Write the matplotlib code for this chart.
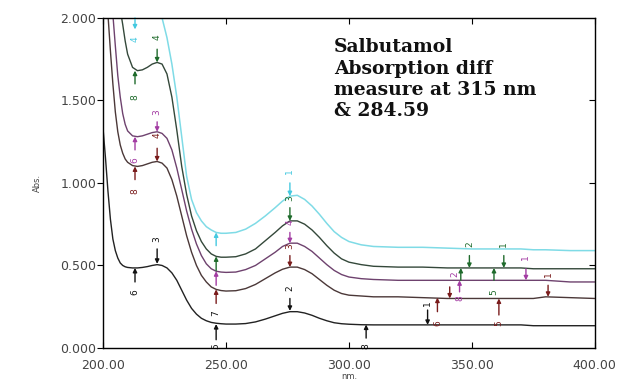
import matplotlib.pyplot as plt

# wavelength grid (nm) shared by all five scans
wavelength = [200, 201, 202, 203, 204, 205, 206, 207, 208, 209, 210,
              212, 214, 216, 218, 220, 222, 224, 226, 228, 230, 232, 234, 236, 238, 240, 242, 244, 246, 248, 250,
              254, 258, 262, 266, 270,
              273, 276, 279, 282, 285, 288, 291, 294, 297, 300,
              305, 310,
              320, 330, 340, 350, 360, 370,
              375, 380, 390, 400]

abs_1 = [1.33, 1.15, 0.95, 0.78, 0.66, 0.59, 0.545, 0.515, 0.50, 0.492, 0.488,
         0.485, 0.485, 0.488, 0.493, 0.50, 0.505, 0.50, 0.485, 0.455, 0.41, 0.35, 0.29, 0.24, 0.205, 0.18, 0.165, 0.155, 0.15, 0.147, 0.145,
         0.145, 0.148, 0.158, 0.175, 0.195,
         0.21, 0.22, 0.22, 0.212, 0.198, 0.18, 0.165, 0.153, 0.147, 0.144,
         0.141, 0.14,
         0.14, 0.14, 0.14, 0.14, 0.14, 0.14,
         0.135, 0.135, 0.135, 0.135]
abs_2 = [2.30, 2.15, 2.02, 1.80, 1.60, 1.43, 1.31, 1.23, 1.18, 1.145, 1.125,
         1.105, 1.10, 1.105, 1.115, 1.125, 1.13, 1.12, 1.09, 1.02, 0.92, 0.80, 0.68, 0.58, 0.50, 0.44, 0.40, 0.37, 0.355, 0.348, 0.345,
         0.347, 0.36, 0.385, 0.42, 0.455,
         0.477, 0.49, 0.49, 0.475, 0.45, 0.415, 0.38, 0.35, 0.33, 0.32,
         0.315, 0.31,
         0.31, 0.305, 0.30, 0.30, 0.30, 0.30,
         0.30, 0.31, 0.305, 0.30]
abs_3 = [2.60, 2.45, 2.30, 2.15, 2.02, 1.83, 1.65, 1.52, 1.42, 1.355, 1.315,
         1.285, 1.28, 1.285, 1.295, 1.305, 1.31, 1.30, 1.27, 1.20, 1.09, 0.96, 0.83, 0.72, 0.63, 0.56, 0.51, 0.48, 0.465, 0.46, 0.458,
         0.46, 0.475, 0.50, 0.54, 0.58,
         0.615, 0.635, 0.635, 0.615, 0.585, 0.545, 0.505, 0.47, 0.445, 0.43,
         0.42, 0.415,
         0.41, 0.41, 0.41, 0.41, 0.41, 0.41,
         0.41, 0.41, 0.40, 0.40]
abs_4 = [2.90, 2.80, 2.65, 2.50, 2.38, 2.25, 2.15, 2.05, 1.96, 1.86, 1.78,
         1.70, 1.68, 1.685, 1.70, 1.72, 1.73, 1.72, 1.66, 1.52, 1.32, 1.10, 0.93, 0.80, 0.71, 0.645, 0.60, 0.57, 0.555, 0.55, 0.55,
         0.553, 0.57, 0.60, 0.65, 0.70,
         0.74, 0.77, 0.77, 0.75, 0.715, 0.67, 0.62, 0.575, 0.54, 0.52,
         0.505, 0.495,
         0.49, 0.49, 0.485, 0.485, 0.485, 0.485,
         0.48, 0.48, 0.48, 0.48]
abs_5 = [3.50, 3.45, 3.40, 3.35, 3.30, 3.25, 3.18, 3.10, 3.03, 2.96, 2.90,
         2.78, 2.66, 2.54, 2.40, 2.27, 2.14, 2.00, 1.88, 1.72, 1.52, 1.28, 1.04, 0.90, 0.82, 0.77, 0.735, 0.715, 0.70, 0.695, 0.695,
         0.70, 0.72, 0.755, 0.80, 0.85,
         0.89, 0.92, 0.925, 0.90, 0.86, 0.81, 0.755, 0.705, 0.67, 0.645,
         0.625, 0.615,
         0.61, 0.61, 0.605, 0.60, 0.60, 0.60,
         0.595, 0.595, 0.59, 0.59]

# peak pick markers: wavelength, arrow tip, arrow tail, label, label height, colour
picks = [
    (213, 0.485, 0.40, "6", 0.34, "#111111"), (222, 0.51, 0.60, "3", 0.66, "#111111"),
    (246, 0.145, 0.05, "5", 0.01, "#111111"), (276, 0.225, 0.30, "2", 0.36, "#111111"),
    (307, 0.142, 0.06, "8", 0.01, "#111111"), (332, 0.14, 0.23, "1", 0.27, "#111111"),
    (213, 1.10, 1.02, "8", 0.95, "#7a1c1c"), (222, 1.13, 1.21, "4", 1.29, "#7a1c1c"),
    (246, 0.355, 0.27, "", 0, "#7a1c1c"), (276, 0.49, 0.56, "3", 0.62, "#7a1c1c"),
    (336, 0.305, 0.22, "6", 0.15, "#7a1c1c"), (341, 0.30, 0.37, "", 0, "#7a1c1c"),
    (361, 0.30, 0.20, "5", 0.15, "#7a1c1c"), (381, 0.31, 0.38, "1", 0.45, "#7a1c1c"),
    (213, 1.28, 1.20, "6", 1.14, "#a33ca3"), (222, 1.31, 1.37, "3", 1.43, "#a33ca3"),
    (246, 0.465, 0.38, "", 0, "#a33ca3"), (276, 0.635, 0.70, "4", 0.76, "#a33ca3"),
    (345, 0.41, 0.34, "8", 0.30, "#a33ca3"), (372, 0.41, 0.48, "1", 0.55, "#a33ca3"),
    (213, 1.68, 1.60, "8", 1.52, "#1f6b2c"), (222, 1.73, 1.81, "4", 1.88, "#1f6b2c"),
    (246, 0.555, 0.47, "", 0, "#1f6b2c"), (276, 0.77, 0.85, "3", 0.91, "#1f6b2c"),
    (349, 0.485, 0.56, "2", 0.63, "#1f6b2c"), (345.5, 0.485, 0.41, "", 0, "#1f6b2c"),
    (359, 0.485, 0.41, "5", 0.34, "#1f6b2c"), (363, 0.485, 0.56, "1", 0.63, "#1f6b2c"),
    (213, 1.93, 2.0, "4", 1.87, "#45c9e0"), (246, 0.70, 0.62, "", 0, "#45c9e0"),
    (276, 0.92, 1.00, "1", 1.07, "#45c9e0"),
]

fig = plt.figure(figsize=(6.17, 3.83), dpi=100)
ax = fig.add_axes([0.167, 0.0914, 0.797, 0.862])

ax.plot(wavelength, abs_1, color="#222222", lw=1)
ax.plot(wavelength, abs_2, color="#4b3838", lw=1)
ax.plot(wavelength, abs_3, color="#6e426e", lw=1)
ax.plot(wavelength, abs_4, color="#34483a", lw=1)
ax.plot(wavelength, abs_5, color="#7fdbe6", lw=1.1)

for x, tip, tail, lab, ly, c in picks:
    ax.annotate("", xy=(x, tip), xytext=(x, tail),
                arrowprops=dict(arrowstyle="-|>", color=c, lw=1, mutation_scale=6, shrinkA=0, shrinkB=0))
    if lab:
        ax.text(x, ly, lab, color=c, fontsize=6.5, rotation=90, ha="center", va="center")
ax.text(246, 0.21, "7", color="#111111", fontsize=6.5, rotation=90, ha="center", va="center")
ax.text(343, 0.45, "2", color="#a33ca3", fontsize=6.5, rotation=90, ha="center", va="center")

ax.set_xlim(200, 400)
ax.set_ylim(0, 2)
ax.set_xticks([200, 250, 300, 350, 400])
ax.set_xticklabels(["200.00", "250.00", "300.00", "350.00", "400.00"])
ax.set_yticks([0, 0.5, 1.0, 1.5, 2.0])
ax.set_yticklabels(["0.000", "0.500", "1.000", "1.500", "2.000"])
ax.tick_params(axis="x", direction="in", length=4, pad=8, labelsize=9, labelcolor="#444444", top=True)
ax.tick_params(axis="y", direction="out", length=4, pad=1, labelsize=9, labelcolor="#444444")
for s in ax.spines.values():
    s.set_color("#333333")
    s.set_linewidth(1)

# inward ticks on the right edge
ax2 = ax.twinx()
ax2.set_ylim(0, 2)
ax2.set_yticks([0.5, 1.0, 1.5])
ax2.tick_params(axis="y", direction="in", length=4, labelright=False)

ax.set_xlabel("nm.", fontsize=6, color="#444444", labelpad=0)
ax.set_ylabel("Abs.", fontsize=6, color="#444444", labelpad=13)

fig.text(0.541, 1 - 38 / 383, "Salbutamol\nAbsorption diff\nmeasure at 315 nm\n& 284.59",
         family="DejaVu Serif", weight="bold", fontsize=13.5, va="top", ha="left", linespacing=1.25, color="#111111")

fig.savefig("out.png", dpi=100)
